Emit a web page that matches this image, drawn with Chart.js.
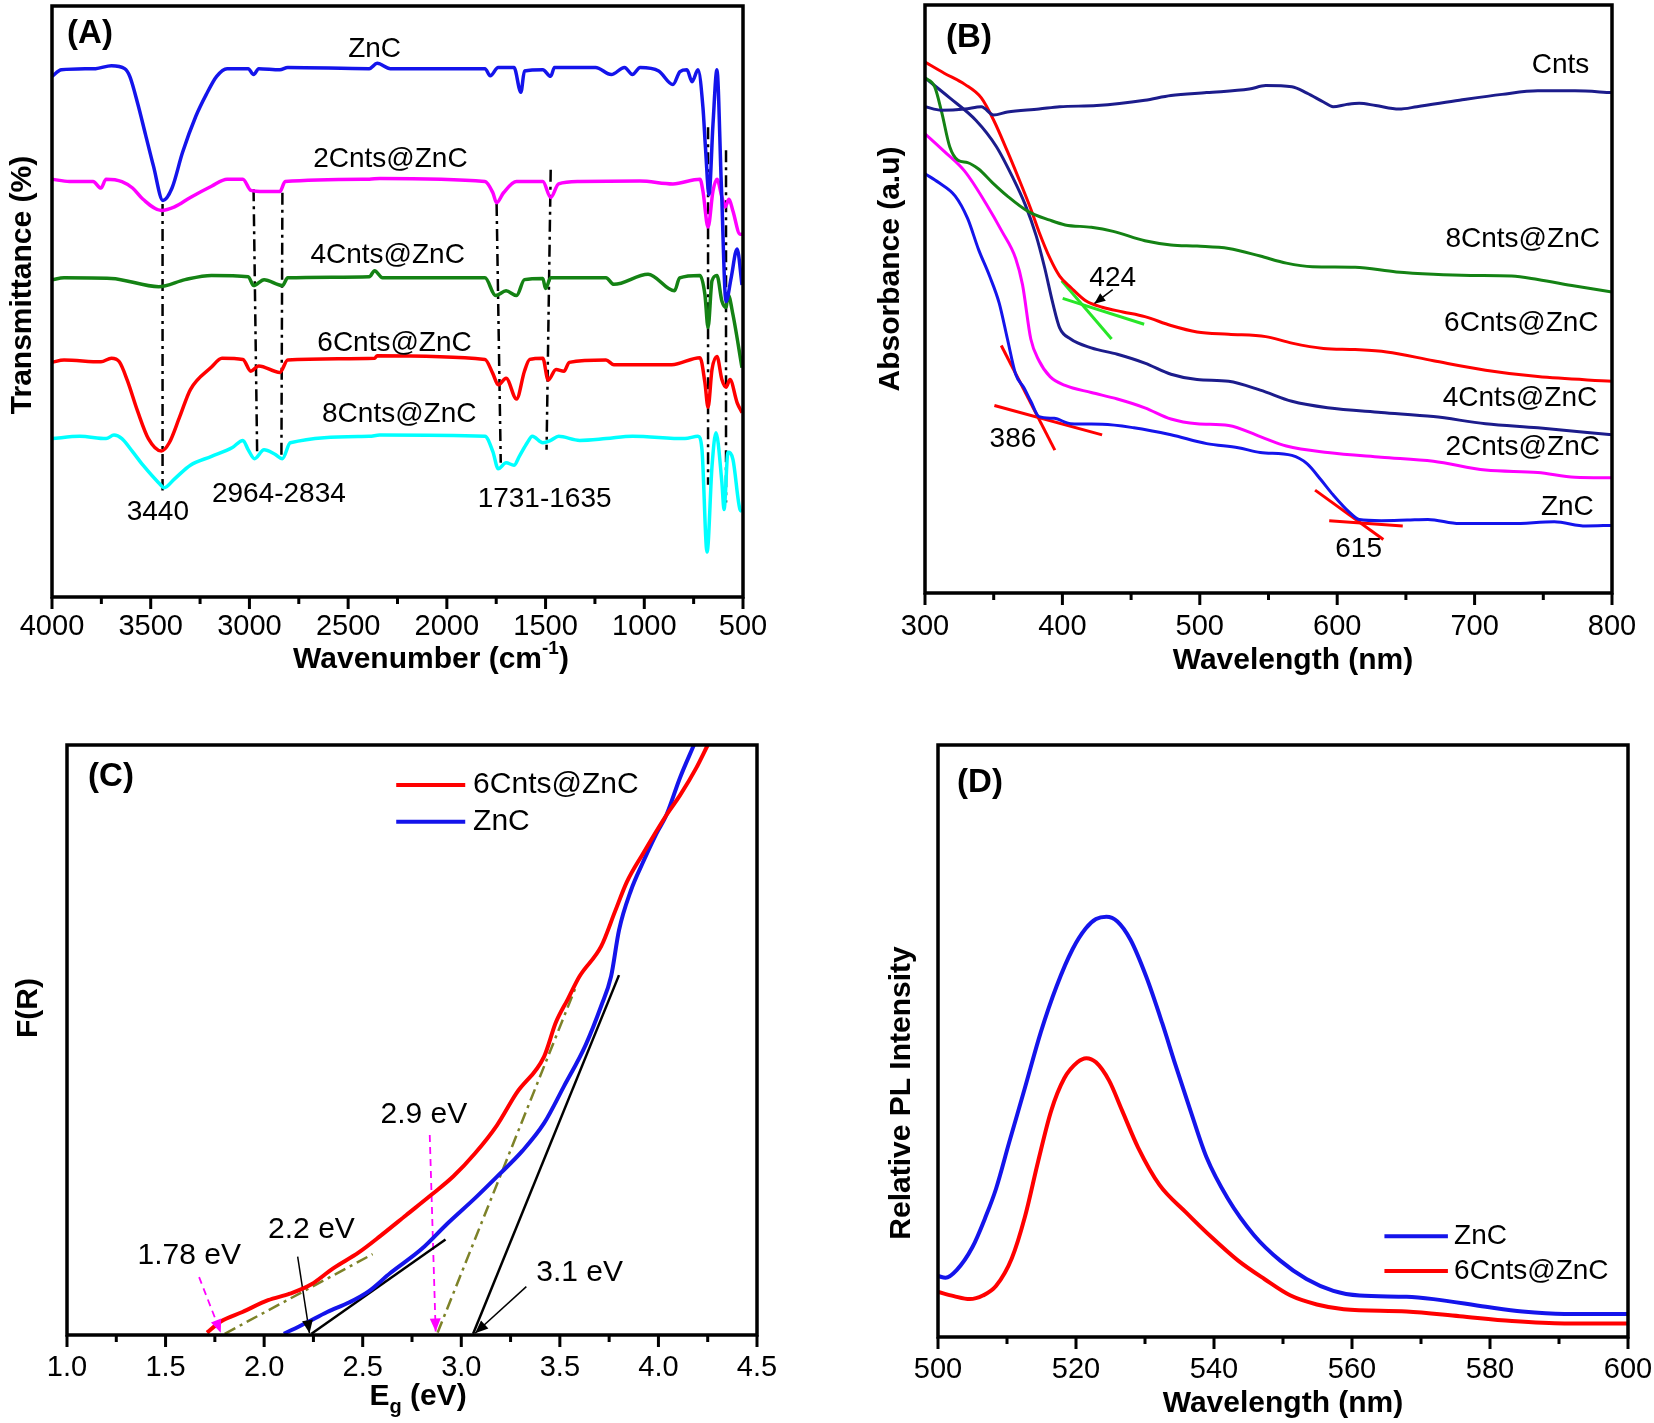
<!DOCTYPE html>
<html>
<head>
<meta charset="utf-8">
<script src="https://cdn.jsdelivr.net/npm/chart.js@4.4.1/dist/chart.umd.min.js"></script>
<style>
  html, body { margin: 0; padding: 0; background: #fff; }
  #wrap { position: relative; width: 1654px; height: 1423px; overflow: hidden; }
  canvas { position: absolute; }
</style>
</head>
<body>
<div id="wrap">
  <canvas id="panelA" width="827" height="711" style="left:0;top:0"></canvas>
  <canvas id="panelB" width="827" height="711" style="left:827px;top:0"></canvas>
  <canvas id="panelC" width="827" height="712" style="left:0;top:711px"></canvas>
  <canvas id="panelD" width="827" height="712" style="left:827px;top:711px"></canvas>
</div>
<script>
const FONT = "'Liberation Sans', Arial, Helvetica, sans-serif";

// ---------- (A) FTIR, x = wavenumber (cm-1), y = transmittance (offset, a.u.) ----------
const aTicks = [4000, 3500, 3000, 2500, 2000, 1500, 1000, 500];
const aMinor = [3750, 3250, 2750, 2250, 1750, 1250, 750];
const aZnC = [[4000,88.1],[3952,89.2],[3779,89.4],[3699,89.9],[3632,89.4],[3606,88.1],[3566,83.5],[3526,78.2],[3486,72.9],[3438,67.1],[3392,69.2],[3339,75.2],[3272,81.3],[3219,85.0],[3166,88.1],[3113,89.4],[3006,89.4],[2979,88.4],[2953,89.4],[2846,89.2],[2806,89.6],[2393,89.4],[2353,90.3],[2286,89.4],[1807,89.4],[1780,88.2],[1740,89.6],[1660,89.6],[1625,85.4],[1607,89.0],[1514,89.2],[1474,88.1],[1455,89.6],[1247,89.6],[1167,88.4],[1100,89.6],[1060,88.4],[1021,89.6],[927,89.0],[855,86.7],[819,88.9],[784,89.2],[758,87.2],[728,89.2],[703,82.9],[690,76.0],[672,68.1],[652,80.0],[632,89.2],[610,70.0],[586,50.0],[560,54.0],[530,58.9],[505,52.8]];
const a2Cnts = [[4000,70.7],[3912,70.3],[3792,70.3],[3752,69.2],[3726,70.7],[3646,70.3],[3592,69.2],[3539,67.3],[3446,65.4],[3379,66.0],[3299,67.6],[3192,69.5],[3113,70.7],[3033,70.7],[2993,68.8],[2926,68.6],[2846,68.6],[2819,70.3],[2393,70.7],[2340,70.8],[1807,70.3],[1767,68.4],[1748,66.7],[1713,68.4],[1647,70.3],[1514,70.3],[1474,67.6],[1434,69.9],[1327,70.3],[1022,70.4],[855,69.9],[718,70.7],[703,68.7],[677,62.6],[652,68.7],[632,70.7],[607,67.7],[591,66.0],[571,67.3],[551,65.3],[515,61.4],[505,61.4]];
const a4Cnts = [[4000,53.7],[3939,54.0],[3700,53.9],[3459,52.5],[3326,53.7],[3192,54.4],[3006,54.2],[2979,52.7],[2926,53.7],[2833,52.7],[2806,54.0],[2393,54.2],[2366,55.2],[2326,54.0],[1807,54.0],[1753,51.0],[1700,51.8],[1647,51.0],[1607,53.7],[1514,53.9],[1500,52.2],[1474,54.0],[1194,54.0],[1154,52.9],[981,54.6],[847,51.8],[821,54.0],[718,54.4],[693,51.2],[677,45.6],[657,53.5],[632,54.4],[607,50.1],[586,49.0],[576,51.2],[551,47.8],[505,38.8]];
const a6Cnts = [[4000,39.7],[3939,40.1],[3752,39.8],[3699,40.4],[3659,39.8],[3619,36.7],[3566,31.4],[3512,26.8],[3446,24.7],[3406,26.1],[3352,30.6],[3299,35.1],[3192,38.9],[3139,40.4],[3033,40.2],[2993,38.2],[2953,39.1],[2846,38.0],[2806,40.1],[2366,40.4],[2353,40.8],[1807,40.2],[1767,37.8],[1740,35.9],[1700,37.0],[1647,33.5],[1607,38.2],[1580,40.2],[1514,40.4],[1487,36.7],[1447,38.5],[1407,38.2],[1380,39.7],[1194,40.1],[1154,39.3],[861,39.3],[718,40.5],[693,36.3],[677,32.1],[657,38.5],[632,40.7],[607,36.8],[586,35.5],[566,36.8],[530,32.9],[505,31.2]];
const a8Cnts = [[4000,26.8],[3859,27.2],[3726,26.8],[3686,27.4],[3646,26.8],[3592,24.6],[3539,22.3],[3459,19.3],[3432,18.5],[3379,20.0],[3299,22.3],[3192,23.8],[3086,25.3],[3033,26.5],[3006,24.9],[2974,23.4],[2926,24.9],[2873,24.2],[2833,23.4],[2793,26.1],[2393,27.2],[2340,27.4],[1807,27.2],[1767,24.6],[1740,21.7],[1700,22.7],[1660,22.3],[1633,23.8],[1593,26.1],[1567,27.2],[1514,26.1],[1474,26.5],[1434,27.2],[1327,26.5],[1194,26.8],[1060,27.2],[794,26.8],[728,27.2],[708,25.0],[682,7.6],[657,22.1],[637,27.8],[607,19.4],[596,14.8],[576,24.5],[551,23.3],[515,14.8],[505,14.5]];
// dash-dot guide lines: [x1, y1, x2, y2]
const aGuides = [[3440,66.5,3440,18.0],[2979,69.0,2961,24.6],[2833,68.4,2838,23.4],[1748,66.5,1727,22.7],[1474,72.3,1495,24.9],[677,79.5,677,19.0],[586,75.6,586,16.0]];
const aLabels = [
  {t:'ZnC', x:2366, y:92.7}, {t:'2Cnts@ZnC', x:2286, y:74.1}, {t:'4Cnts@ZnC', x:2300, y:57.8},
  {t:'6Cnts@ZnC', x:2265, y:42.9}, {t:'8Cnts@ZnC', x:2241, y:31.0},
  {t:'3440', x:3464, y:14.4}, {t:'2964-2834', x:2851, y:17.4}, {t:'1731-1635', x:1505, y:16.6}
];

// ---------- (B) UV-vis absorbance ----------
const bTicks = [300, 400, 500, 600, 700, 800];
const bMinor = [350, 450, 550, 650, 750];
const bCnts = [[300,82.7],[312,82.1],[329,82.3],[341,82.7],[350,81.3],[360,81.8],[383,82.3],[398,82.7],[425,82.9],[460,83.8],[479,84.6],[505,85.1],[536,85.7],[548,86.3],[567,86.1],[578,85.0],[590,83.5],[597,82.7],[607,83.1],[616,83.3],[628,82.9],[645,82.3],[658,82.7],[689,83.8],[720,84.8],[746,85.4],[773,85.4],[800,85.1]];
const b8Cnts = [[300,87.6],[307,86.1],[312,81.9],[318,75.9],[324,73.6],[331,73.2],[339,72.1],[349,69.8],[360,67.5],[375,64.9],[391,63.4],[402,62.6],[421,62.2],[437,61.5],[460,59.9],[479,59.2],[498,59.0],[521,58.6],[544,57.3],[563,56.1],[582,55.5],[613,55.4],[643,54.6],[670,54.2],[697,54.0],[727,53.9],[746,53.3],[773,52.2],[800,51.2]];
const b6Cnts = [[300,90.3],[314,88.4],[329,86.5],[341,84.2],[350,80.4],[360,75.1],[368,70.6],[377,65.3],[383,61.4],[391,56.9],[398,53.9],[406,52.0],[417,49.7],[429,48.6],[444,47.8],[460,47.0],[479,45.5],[498,44.4],[521,44.0],[548,43.6],[567,42.5],[590,41.6],[613,41.4],[636,41.0],[670,39.5],[708,37.9],[746,36.8],[800,36.0]];
const b4Cnts = [[300,87.6],[318,84.2],[337,80.4],[352,75.9],[364,70.6],[373,66.0],[381,60.7],[387,55.4],[393,49.3],[398,45.1],[406,43.2],[421,41.7],[440,40.6],[460,39.1],[479,37.2],[498,36.3],[521,36.0],[544,34.5],[567,32.6],[593,31.5],[632,30.7],[670,30.0],[708,28.8],[746,28.1],[800,26.9]];
const b2Cnts = [[300,78.1],[314,75.1],[329,71.7],[345,66.0],[356,61.5],[366,56.9],[371,52.4],[377,43.2],[383,39.5],[391,36.8],[402,35.3],[421,34.1],[440,33.0],[460,31.5],[479,29.6],[498,28.8],[521,28.5],[544,26.6],[563,25.0],[593,23.9],[632,23.1],[670,22.4],[708,20.9],[746,20.5],[773,19.7],[800,19.6]];
const bZnC = [[300,71.3],[310,69.8],[322,67.5],[331,63.7],[339,58.4],[347,53.9],[354,49.3],[360,43.2],[366,37.2],[372,34.9],[377,32.6],[383,30.0],[394,29.7],[406,28.8],[429,28.7],[452,28.1],[479,26.9],[505,25.4],[528,24.7],[544,23.9],[567,23.4],[578,22.0],[588,19.3],[597,16.7],[609,13.7],[616,12.5],[632,12.3],[651,12.4],[666,12.5],[689,11.8],[727,11.8],[758,12.1],[781,11.4],[800,11.5]];
const bRedTangents = [[355.5,42.1,394.5,24.3],[350.5,31.9,428.9,26.9],[583.9,17.5,633.6,9.1],[594.2,12.3,647.7,11.4]];
const bGreenTangents = [[399.5,53.1,435.8,43.2],[400.2,50.1,459.5,45.7]];
const bArrow = [436.6,51.6,423.2,49.2];
const bLabels = [
  {t:'Cnts', x:762.5, y:89.7}, {t:'8Cnts@ZnC', x:735, y:60.1}, {t:'6Cnts@ZnC', x:734, y:45.9},
  {t:'4Cnts@ZnC', x:733, y:33.2}, {t:'2Cnts@ZnC', x:735, y:24.8}, {t:'ZnC', x:767.5, y:14.6},
  {t:'386', x:364, y:26.2}, {t:'424', x:436.6, y:53.5}, {t:'615', x:615.6, y:7.4}
];

// ---------- (C) Kubelka-Munk F(R) vs Eg ----------
const cTicks = [1.0, 1.5, 2.0, 2.5, 3.0, 3.5, 4.0, 4.5];
const cMinor = [1.25, 1.75, 2.25, 2.75, 3.25, 3.75, 4.25];
const c6Cnts = [[1.71,0.4],[1.78,2.3],[1.89,3.9],[2.02,5.9],[2.13,7.0],[2.24,8.6],[2.35,11.3],[2.48,14.0],[2.59,16.8],[2.72,20.3],[2.85,23.8],[2.96,26.9],[3.07,30.8],[3.18,35.5],[3.28,41.0],[3.42,47.2],[3.48,53.0],[3.54,56.9],[3.60,60.8],[3.71,65.9],[3.78,71.8],[3.84,76.8],[3.92,81.5],[4.04,88.1],[4.11,91.5],[4.19,96.0],[4.25,100]];
const cZnC = [[2.10,0.2],[2.21,2.0],[2.32,3.9],[2.43,5.5],[2.53,7.4],[2.64,10.5],[2.80,14.6],[2.93,18.9],[3.07,23.2],[3.18,26.8],[3.31,31.2],[3.42,35.9],[3.52,42.1],[3.63,49.1],[3.71,55.8],[3.76,60.8],[3.80,68.6],[3.86,75.3],[3.92,80.0],[3.99,85.0],[4.04,88.1],[4.11,94.5],[4.18,100]];
const cBlackTangents = [[2.24,0.2,2.92,16.2],[3.06,0.2,3.80,61.0]];
const cOliveTangents = [[1.80,0.2,2.55,13.7],[2.88,0.4,3.58,58.9]];
const cPinkArrows = [[1.67,9.8,1.78,0.4],[2.84,33.9,2.87,0.6]];
const cBlackArrows = [[2.17,13.3,2.23,0.3],[3.33,8.2,3.07,0.3]];
const cLegend = [[2.67,93.2,3.02,93.2],[2.67,87.0,3.02,87.0]];
const cLabels = [
  {t:'1.78 eV', x:1.62, y:13.4, size:30}, {t:'2.2 eV', x:2.24, y:17.8, size:30},
  {t:'2.9 eV', x:2.81, y:37.4, size:30}, {t:'3.1 eV', x:3.60, y:10.5, size:30},
  {t:'6Cnts@ZnC', x:3.06, y:93.2, size:30, align:'left'}, {t:'ZnC', x:3.06, y:87.0, size:30, align:'left'}
];

// ---------- (D) photoluminescence ----------
const dTicks = [500, 520, 540, 560, 580, 600];
const dMinor = [510, 530, 550, 570, 590];
const dZnC = [[500,10.3],[501.1,10.0],[502.7,11.3],[505.0,15.2],[506.9,20.3],[508.4,25.0],[510.3,32.8],[512.6,42.1],[514.9,51.5],[517.2,59.3],[519.5,65.5],[521.4,69.0],[522.9,70.6],[524.4,71.0],[526.0,70.2],[527.9,67.1],[530.2,60.8],[532.5,53.0],[534.4,46.0],[536.6,38.2],[538.9,30.4],[542.0,23.4],[545.8,17.2],[549.6,12.9],[553.4,9.8],[557.3,7.8],[561.1,7.0],[567.9,6.8],[571.8,6.4],[579.4,5.1],[584.7,4.3],[590.8,3.9],[600,3.9]];
const d6Cnts = [[500,7.6],[502.3,6.9],[504.6,6.4],[506.5,7.0],[508.4,8.6],[510.7,13.3],[512.6,20.3],[514.5,29.6],[516.4,38.2],[518.3,43.7],[520.2,46.4],[521.5,47.1],[522.9,46.4],[524.8,43.3],[526.7,38.2],[529.0,32.0],[532.1,25.7],[535.9,21.1],[539.7,16.8],[543.5,12.9],[547.3,9.8],[551.1,7.0],[554.9,5.5],[558.8,4.7],[567.9,4.3],[575.6,3.5],[583.2,2.7],[590.8,2.3],[600,2.3]];
const dLegend = [[564.7,17.0,573.9,17.0],[564.7,11.15,573.9,11.15]];
const dLabels = [
  {t:'ZnC', x:574.8, y:17.0, align:'left'}, {t:'6Cnts@ZnC', x:574.8, y:11.15, align:'left'}
];

const BLUE = 'rgb(20,20,235)', NAVY = 'rgb(28,28,140)', PINK = 'rgb(255,0,255)';
const GREEN = 'rgb(20,130,20)', LIME = 'rgb(40,230,40)', RED = 'rgb(255,0,0)';
const CYAN = 'rgb(0,255,255)', OLIVE = 'rgb(125,130,40)';
const DASHDOT = [12, 5, 3, 5];

function curve(data, color, width) {
  return {
    data: data.map(p => ({ x: p[0], y: p[1] })),
    borderColor: color, borderWidth: width, pointRadius: 0, fill: false,
    cubicInterpolationMode: 'monotone'
  };
}

function seg(s, color, width, dash, arrow) {
  return {
    data: [{ x: s[0], y: s[1] }, { x: s[2], y: s[3] }],
    borderColor: color, borderWidth: width, borderDash: dash || [],
    pointRadius: 0, fill: false, tension: 0, arrow: arrow || 0
  };
}

function xAxis(min, max, reverse, ticks, fmt, pad, h) {
  return {
    type: 'linear', min: min, max: max, reverse: reverse,
    grid: { display: false, drawTicks: false },
    border: { display: false },
    afterBuildTicks: s => { s.ticks = ticks.map(v => ({ value: v })); },
    afterFit: s => { s.height = h; s.paddingLeft = 0; s.paddingRight = 0; },
    ticks: { color: '#000', font: { size: 29 }, padding: pad, maxRotation: 0, autoSkip: false,
      callback: v => fmt(v) }
  };
}

function yAxis(w) {
  return {
    type: 'linear', min: 0, max: 100,
    grid: { display: false, drawTicks: false },
    border: { display: false },
    ticks: { display: false },
    afterFit: s => { s.width = w; }
  };
}

function drawRich(ctx, tt) {
  ctx.save();
  ctx.translate(tt.x, tt.y);
  if (tt.rot) ctx.rotate(tt.rot);
  ctx.textAlign = 'left';
  ctx.textBaseline = 'middle';
  ctx.fillStyle = '#000';
  let w = 0;
  tt.segs.forEach(s => { ctx.font = 'bold ' + s.size + 'px ' + FONT; s.w = ctx.measureText(s.t).width; w += s.w; });
  let cx = -w / 2;
  tt.segs.forEach(s => { ctx.font = 'bold ' + s.size + 'px ' + FONT; ctx.fillText(s.t, cx, s.dy || 0); cx += s.w; });
  ctx.restore();
}

// frame, tick marks, arrow heads, labels and titles
function decor(cfg) {
  return {
    id: 'decor',
    afterDraw(chart) {
      const { ctx, chartArea: a } = chart;
      const x = chart.scales.x, y = chart.scales.y;
      ctx.save();
      chart.data.datasets.forEach((ds, i) => {
        if (!ds.arrow) return;
        const pts = chart.getDatasetMeta(i).data;
        const p0 = pts[0], p1 = pts[pts.length - 1];
        const ang = Math.atan2(p1.y - p0.y, p1.x - p0.x);
        const L = ds.arrow, W = ds.arrow * 0.42;
        ctx.fillStyle = ds.borderColor;
        ctx.beginPath();
        ctx.moveTo(p1.x, p1.y);
        ctx.lineTo(p1.x - L * Math.cos(ang) + W * Math.sin(ang), p1.y - L * Math.sin(ang) - W * Math.cos(ang));
        ctx.lineTo(p1.x - L * Math.cos(ang) - W * Math.sin(ang), p1.y - L * Math.sin(ang) + W * Math.cos(ang));
        ctx.closePath();
        ctx.fill();
      });
      ctx.strokeStyle = '#000';
      ctx.lineWidth = 3.5;
      ctx.strokeRect(a.left, a.top, a.right - a.left, a.bottom - a.top);
      ctx.lineWidth = 3;
      ctx.beginPath();
      cfg.majors.forEach(v => { const px = x.getPixelForValue(v); ctx.moveTo(px, a.bottom); ctx.lineTo(px, a.bottom + 12); });
      cfg.minors.forEach(v => { const px = x.getPixelForValue(v); ctx.moveTo(px, a.bottom); ctx.lineTo(px, a.bottom + 7); });
      ctx.stroke();
      ctx.fillStyle = '#000';
      ctx.textBaseline = 'middle';
      cfg.labels.forEach(l => {
        ctx.font = (l.size || 28) + 'px ' + FONT;
        ctx.textAlign = l.align || 'center';
        ctx.fillText(l.t, x.getPixelForValue(l.x), y.getPixelForValue(l.y));
      });
      cfg.titles.forEach(tt => drawRich(ctx, tt));
      ctx.restore();
    }
  };
}

function makeChart(id, datasets, pad, xs, ys, cfg) {
  return new Chart(document.getElementById(id), {
    type: 'line',
    data: { datasets: datasets },
    options: {
      responsive: false, animation: false, events: [],
      layout: { padding: pad },
      plugins: { legend: { display: false }, tooltip: { enabled: false } },
      scales: { x: xs, y: ys }
    },
    plugins: [decor(cfg)]
  });
}

Chart.defaults.font.family = FONT;
Chart.defaults.color = '#000';
const UP = -Math.PI / 2;

// (A)
makeChart('panelA', [
  curve(aZnC, BLUE, 3.5), curve(a2Cnts, PINK, 3.5), curve(a4Cnts, GREEN, 3.5),
  curve(a6Cnts, RED, 3.5), curve(a8Cnts, CYAN, 3.5),
  ...aGuides.map(g => seg(g, '#000', 2.5, DASHDOT))
], { left: 0, right: 84, top: 6, bottom: 0 },
  xAxis(500, 4000, true, aTicks, v => String(v), 13, 114), yAxis(52),
  { majors: aTicks, minors: aMinor, labels: aLabels, titles: [
    { x: 90, y: 34, segs: [{ t: '(A)', size: 33 }] },
    { x: 431, y: 660, segs: [{ t: 'Wavenumber (cm', size: 30 }, { t: '-1', size: 19, dy: -11 }, { t: ')', size: 30 }] },
    { x: 23, y: 285, rot: UP, segs: [{ t: 'Transmittance (%)', size: 30 }] }
  ] });

// (B)
makeChart('panelB', [
  curve(bCnts, NAVY, 3), curve(b8Cnts, GREEN, 3), curve(b6Cnts, RED, 3),
  curve(b4Cnts, NAVY, 3), curve(b2Cnts, PINK, 3), curve(bZnC, BLUE, 3),
  ...bRedTangents.map(g => seg(g, RED, 3)),
  ...bGreenTangents.map(g => seg(g, LIME, 3)),
  seg(bArrow, '#000', 1.5, null, 11)
], { left: 0, right: 42, top: 5, bottom: 0 },
  xAxis(300, 800, false, bTicks, v => String(v), 17, 118), yAxis(98),
  { majors: bTicks, minors: bMinor, labels: bLabels, titles: [
    { x: 142, y: 38, segs: [{ t: '(B)', size: 33 }] },
    { x: 466, y: 661, segs: [{ t: 'Wavelength (nm)', size: 30 }] },
    { x: 64, y: 269, rot: UP, segs: [{ t: 'Absorbance (a.u)', size: 30 }] }
  ] });

// (C)
makeChart('panelC', [
  curve(c6Cnts, RED, 4), curve(cZnC, BLUE, 4),
  ...cOliveTangents.map(g => seg(g, OLIVE, 2.5, DASHDOT)),
  ...cBlackTangents.map(g => seg(g, '#000', 2.5)),
  ...cPinkArrows.map(g => seg(g, PINK, 1.8, [7, 5], 13)),
  ...cBlackArrows.map(g => seg(g, '#000', 1.5, null, 13)),
  seg(cLegend[0], RED, 4), seg(cLegend[1], BLUE, 4)
], { left: 0, right: 70, top: 34, bottom: 0 },
  xAxis(1.0, 4.5, false, cTicks, v => v.toFixed(1), 16, 88), yAxis(67),
  { majors: cTicks, minors: cMinor, labels: cLabels, titles: [
    { x: 111, y: 66, segs: [{ t: '(C)', size: 33 }] },
    { x: 418, y: 686, segs: [{ t: 'E', size: 30 }, { t: 'g', size: 20, dy: 10 }, { t: ' (eV)', size: 30 }] },
    { x: 29, y: 297, rot: UP, segs: [{ t: 'F(R)', size: 30 }] }
  ] });

// (D)
makeChart('panelD', [
  curve(dZnC, BLUE, 4), curve(d6Cnts, RED, 4),
  seg(dLegend[0], BLUE, 4), seg(dLegend[1], RED, 4)
], { left: 0, right: 26, top: 34, bottom: 0 },
  xAxis(500, 600, false, dTicks, v => String(v), 16, 86), yAxis(111),
  { majors: dTicks, minors: dMinor, labels: dLabels, titles: [
    { x: 153, y: 72, segs: [{ t: '(D)', size: 33 }] },
    { x: 456, y: 693, segs: [{ t: 'Wavelength (nm)', size: 30 }] },
    { x: 75, y: 382, rot: UP, segs: [{ t: 'Relative PL Intensity', size: 30 }] }
  ] });
</script>
</body>
</html>
